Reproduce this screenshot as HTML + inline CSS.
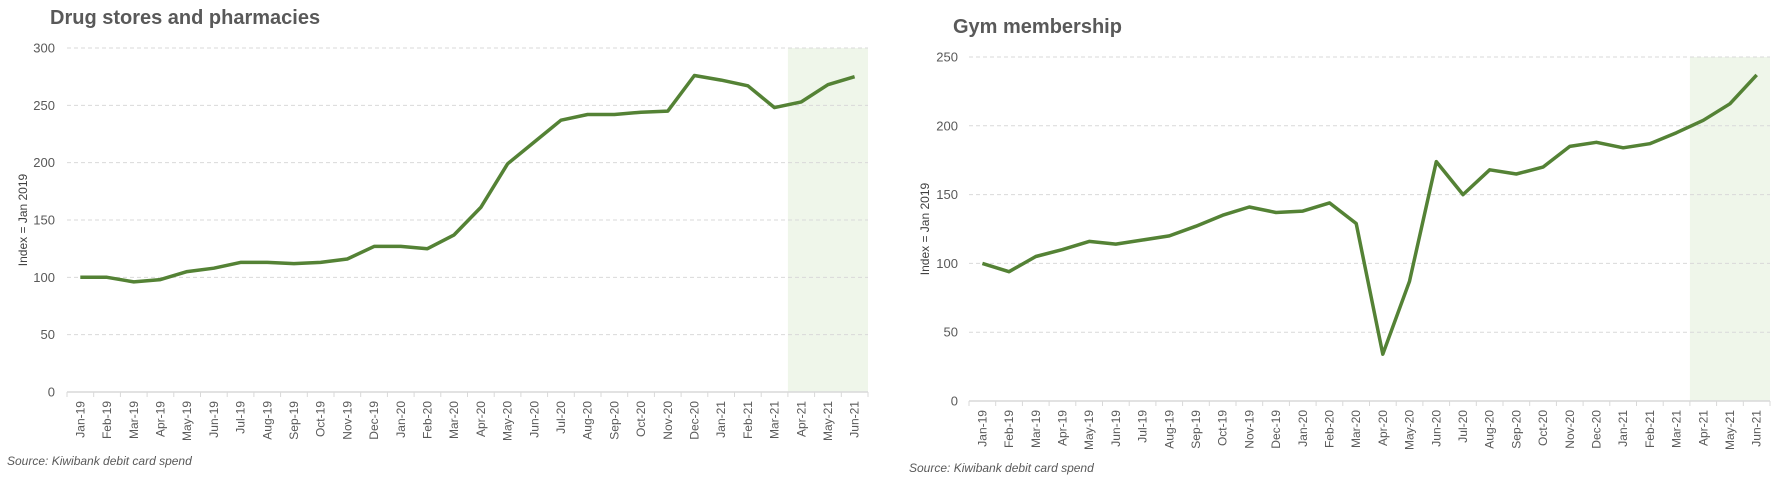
<!DOCTYPE html>
<html><head><meta charset="utf-8">
<style>
html,body{margin:0;padding:0;background:#fff;}
svg{display:block;font-family:"Liberation Sans",Arial,sans-serif;}
</style></head>
<body>
<svg id="c" width="1777" height="479" viewBox="0 0 1777 479" xmlns="http://www.w3.org/2000/svg"></svg>
<script>
const categories = ["Jan-19","Feb-19","Mar-19","Apr-19","May-19","Jun-19","Jul-19","Aug-19","Sep-19","Oct-19","Nov-19","Dec-19","Jan-20","Feb-20","Mar-20","Apr-20","May-20","Jun-20","Jul-20","Aug-20","Sep-20","Oct-20","Nov-20","Dec-20","Jan-21","Feb-21","Mar-21","Apr-21","May-21","Jun-21"];
const drugValues = [100,100,96,98,105,108,113,113,112,113,116,127,127,125,137,161,199,218,237,242,242,244,245,276,272,267,248,253,268,275];
const gymValues = [100,94,105,110,116,114,117,120,127,135,141,137,138,144,129,34,87,174,150,168,165,170,185,188,184,187,195,204,216,237];
const drugTicks = [0,50,100,150,200,250,300];
const gymTicks = [0,50,100,150,200,250];
const shadeStartIndex = 27;

const NS="http://www.w3.org/2000/svg";
const svg=document.getElementById('c');
function mk(tag,attrs,parent){const e=document.createElementNS(NS,tag);for(const k in attrs)e.setAttribute(k,attrs[k]);(parent||svg).appendChild(e);return e;}

function chart(cfg){
  const g=mk('g',{});
  
  
  const n=categories.length, bw=(cfg.x1-cfg.x0)/n;
  const xs=i=>cfg.x0+(i+0.5)*bw;
  const ys=v=>cfg.y0-(v/cfg.max)*(cfg.y0-cfg.yTop);
  // shading
  const sh=mk('rect',{x:cfg.x0+shadeStartIndex*bw,y:ys(cfg.max),width:(n-shadeStartIndex)*bw,height:cfg.y0-ys(cfg.max),fill:'#eff6ea'},g);
  
  
  // grid & y labels
  cfg.ticks.forEach(t=>{
    if(t>0){const l=mk('line',{x1:cfg.x0,x2:cfg.x1,y1:ys(t),y2:ys(t),stroke:'#d9d9d9','stroke-dasharray':'4,3','stroke-width':1},g);
    
    }
    const tx=mk('text',{x:cfg.labX,y:ys(t)+4.5,'text-anchor':'end','font-size':13,fill:'#595959'},g);
    tx.textContent=t;
    
    
  });
  // axis
  const ax=mk('line',{x1:cfg.x0,x2:cfg.x1,y1:cfg.y0,y2:cfg.y0,stroke:'#d9d9d9','stroke-width':1.5},g);
  
  
  for(let i=0;i<=n;i++){const tk=mk('line',{x1:cfg.x0+i*bw,x2:cfg.x0+i*bw,y1:cfg.y0,y2:cfg.y0+5,stroke:'#d9d9d9','stroke-width':1},g);
    
    }
  categories.forEach((c,i)=>{
    const x=xs(i)+4, y=cfg.y0+9;
    const t=mk('text',{x:x,y:y,transform:`rotate(-90 ${x} ${y})`,'text-anchor':'end','font-size':12,fill:'#595959'},g);
    t.textContent=c;
    
    
  });
  // line
  const pts=cfg.values.map((v,i)=>xs(i).toFixed(1)+','+ys(v).toFixed(1)).join(' ');
  const pl=mk('polyline',{points:pts,fill:'none',stroke:'#548235','stroke-width':3.5,'stroke-linejoin':'round'},g);
  
  
  // title
  const ti=mk('text',{x:cfg.titleX,y:cfg.titleY,'font-size':20,'font-weight':'bold',fill:'#595959'},g);
  ti.textContent=cfg.title;
  
  
  const ayx=cfg.axisTitleX, ayy=(cfg.y0+ys(cfg.max))/2;
  const at=mk('text',{x:ayx,y:ayy,transform:`rotate(-90 ${ayx} ${ayy})`,'text-anchor':'middle','font-size':12,fill:'#404040'},g);
  at.textContent='Index = Jan 2019';
  
  
  const so=mk('text',{x:cfg.srcX,y:cfg.srcY,'font-size':12,'font-style':'italic',fill:'#595959'},g);
  so.textContent='Source: Kiwibank debit card spend';
  
  
}
chart({name:'drug-stores-chart',x0:67,x1:868,y0:392,yTop:48,max:300,ticks:drugTicks,values:drugValues,labX:55,title:'Drug stores and pharmacies',titleX:50,titleY:24,axisTitleX:27,srcX:7,srcY:465});
chart({name:'gym-membership-chart',x0:969,x1:1770,y0:401,yTop:57,max:250,ticks:gymTicks,values:gymValues,labX:958,title:'Gym membership',titleX:953,titleY:33,axisTitleX:929,srcX:909,srcY:472});
</script>
</body></html>
